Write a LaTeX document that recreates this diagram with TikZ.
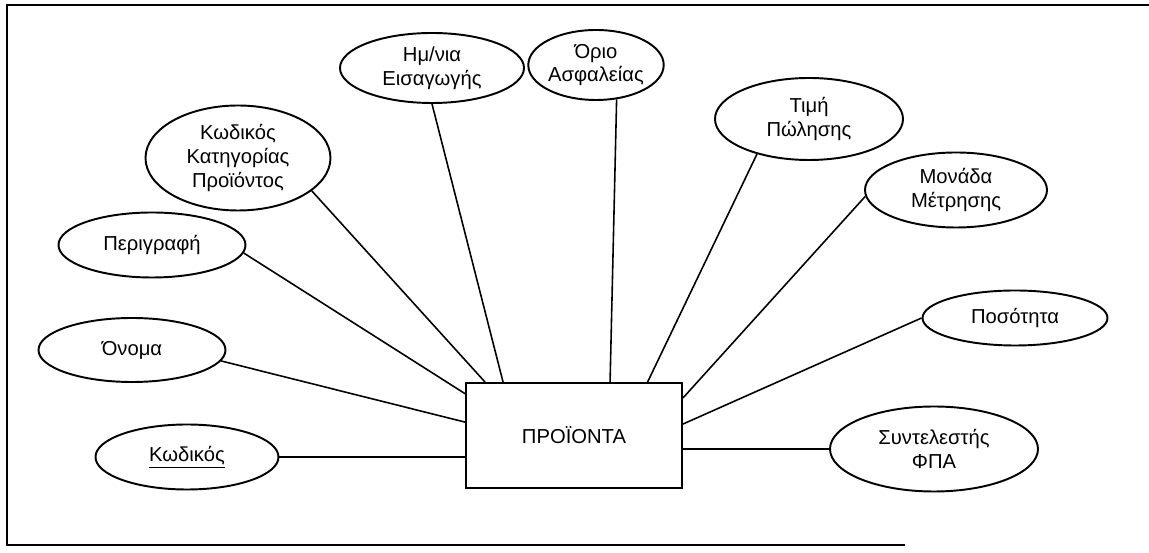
\documentclass[tikz,border=0pt]{standalone}
\usepackage{fontspec}
\setmainfont{Liberation Sans}
\usepackage{tikz}
\usetikzlibrary{shapes,positioning,calc}

\begin{document}
\begin{tikzpicture}[
    attr/.style={ellipse, draw, line width=1.1pt, inner sep=0pt, align=center,
                 font=\fontsize{11.5}{13.5}\selectfont},
    entity/.style={rectangle, draw, line width=1.1pt, minimum width=4.32cm,
                   minimum height=2.1cm, font=\fontsize{11.5}{13.5}\selectfont},
    link/.style={line width=0.9pt}
]
    \useasboundingbox (0,0) rectangle (22.98,11.06);
    % frame of the scanned page
    \draw[line width=1.2pt] (22.98,10.96) -- (0.14,10.96) -- (0.14,0.16) -- (18.1,0.16);

    % entity
    \node[entity] (prod) at (11.48,2.35) {ΠΡΟΪΟΝΤΑ};

    % attributes
    \node[attr, minimum width=3.66cm, minimum height=1.3cm] (kodikos) at (3.74,1.92) {\underline{Κωδικός}};
    \node[attr, minimum width=3.74cm, minimum height=1.28cm] (onoma) at (2.64,4.06) {Όνομα};
    \node[attr, minimum width=3.74cm, minimum height=1.3cm] (perigrafi) at (3.04,6.16) {Περιγραφή};
    \node[attr, minimum width=3.7cm, minimum height=2.1cm] (katigoria) at (4.76,7.9) {Κωδικός\\Κατηγορίας\\Προϊόντος};
    \node[attr, minimum width=3.68cm, minimum height=1.4cm] (imnia) at (8.64,9.7) {Ημ/νια\\Εισαγωγής};
    \node[attr, minimum width=2.36cm, minimum height=1.4cm] (orio) at (11.92,9.76) {Όριο\\Ασφαλείας};
    \node[attr, minimum width=3.76cm, minimum height=1.64cm] (timi) at (16.18,8.68) {Τιμή\\Πώλησης};
    \node[attr, minimum width=3.64cm, minimum height=1.5cm] (monada) at (19.12,7.26) {Μονάδα\\Μέτρησης};
    \node[attr, minimum width=3.7cm, minimum height=1.1cm] (posotita) at (20.3,4.7) {Ποσότητα};
    \node[attr, minimum width=4.16cm, minimum height=1.7cm] (fpa) at (18.68,2.08) {Συντελεστής\\ΦΠΑ};

    % connections
    \draw[link] (kodikos.east) -- (kodikos.east -| prod.west);
    \draw[link] (onoma.-7.5) -- (prod.173.4);
    \draw[link] (perigrafi.-5) -- (prod.159.4);
    \draw[link] (katigoria.-24) -- (prod.149.5);
    \draw[link] (imnia.south) -- (prod.143.4);
    \draw[link] (orio.-59) -- (prod.56.1);
    \draw[link] (timi.-146.5) -- (prod.36.2);
    \draw[link] (monada.184) -- (prod.19.1);
    \draw[link] (posotita.west) -- (prod.6.6);
    \draw[link] (fpa.west) -- (fpa.west -| prod.east);
\end{tikzpicture}
\end{document}
